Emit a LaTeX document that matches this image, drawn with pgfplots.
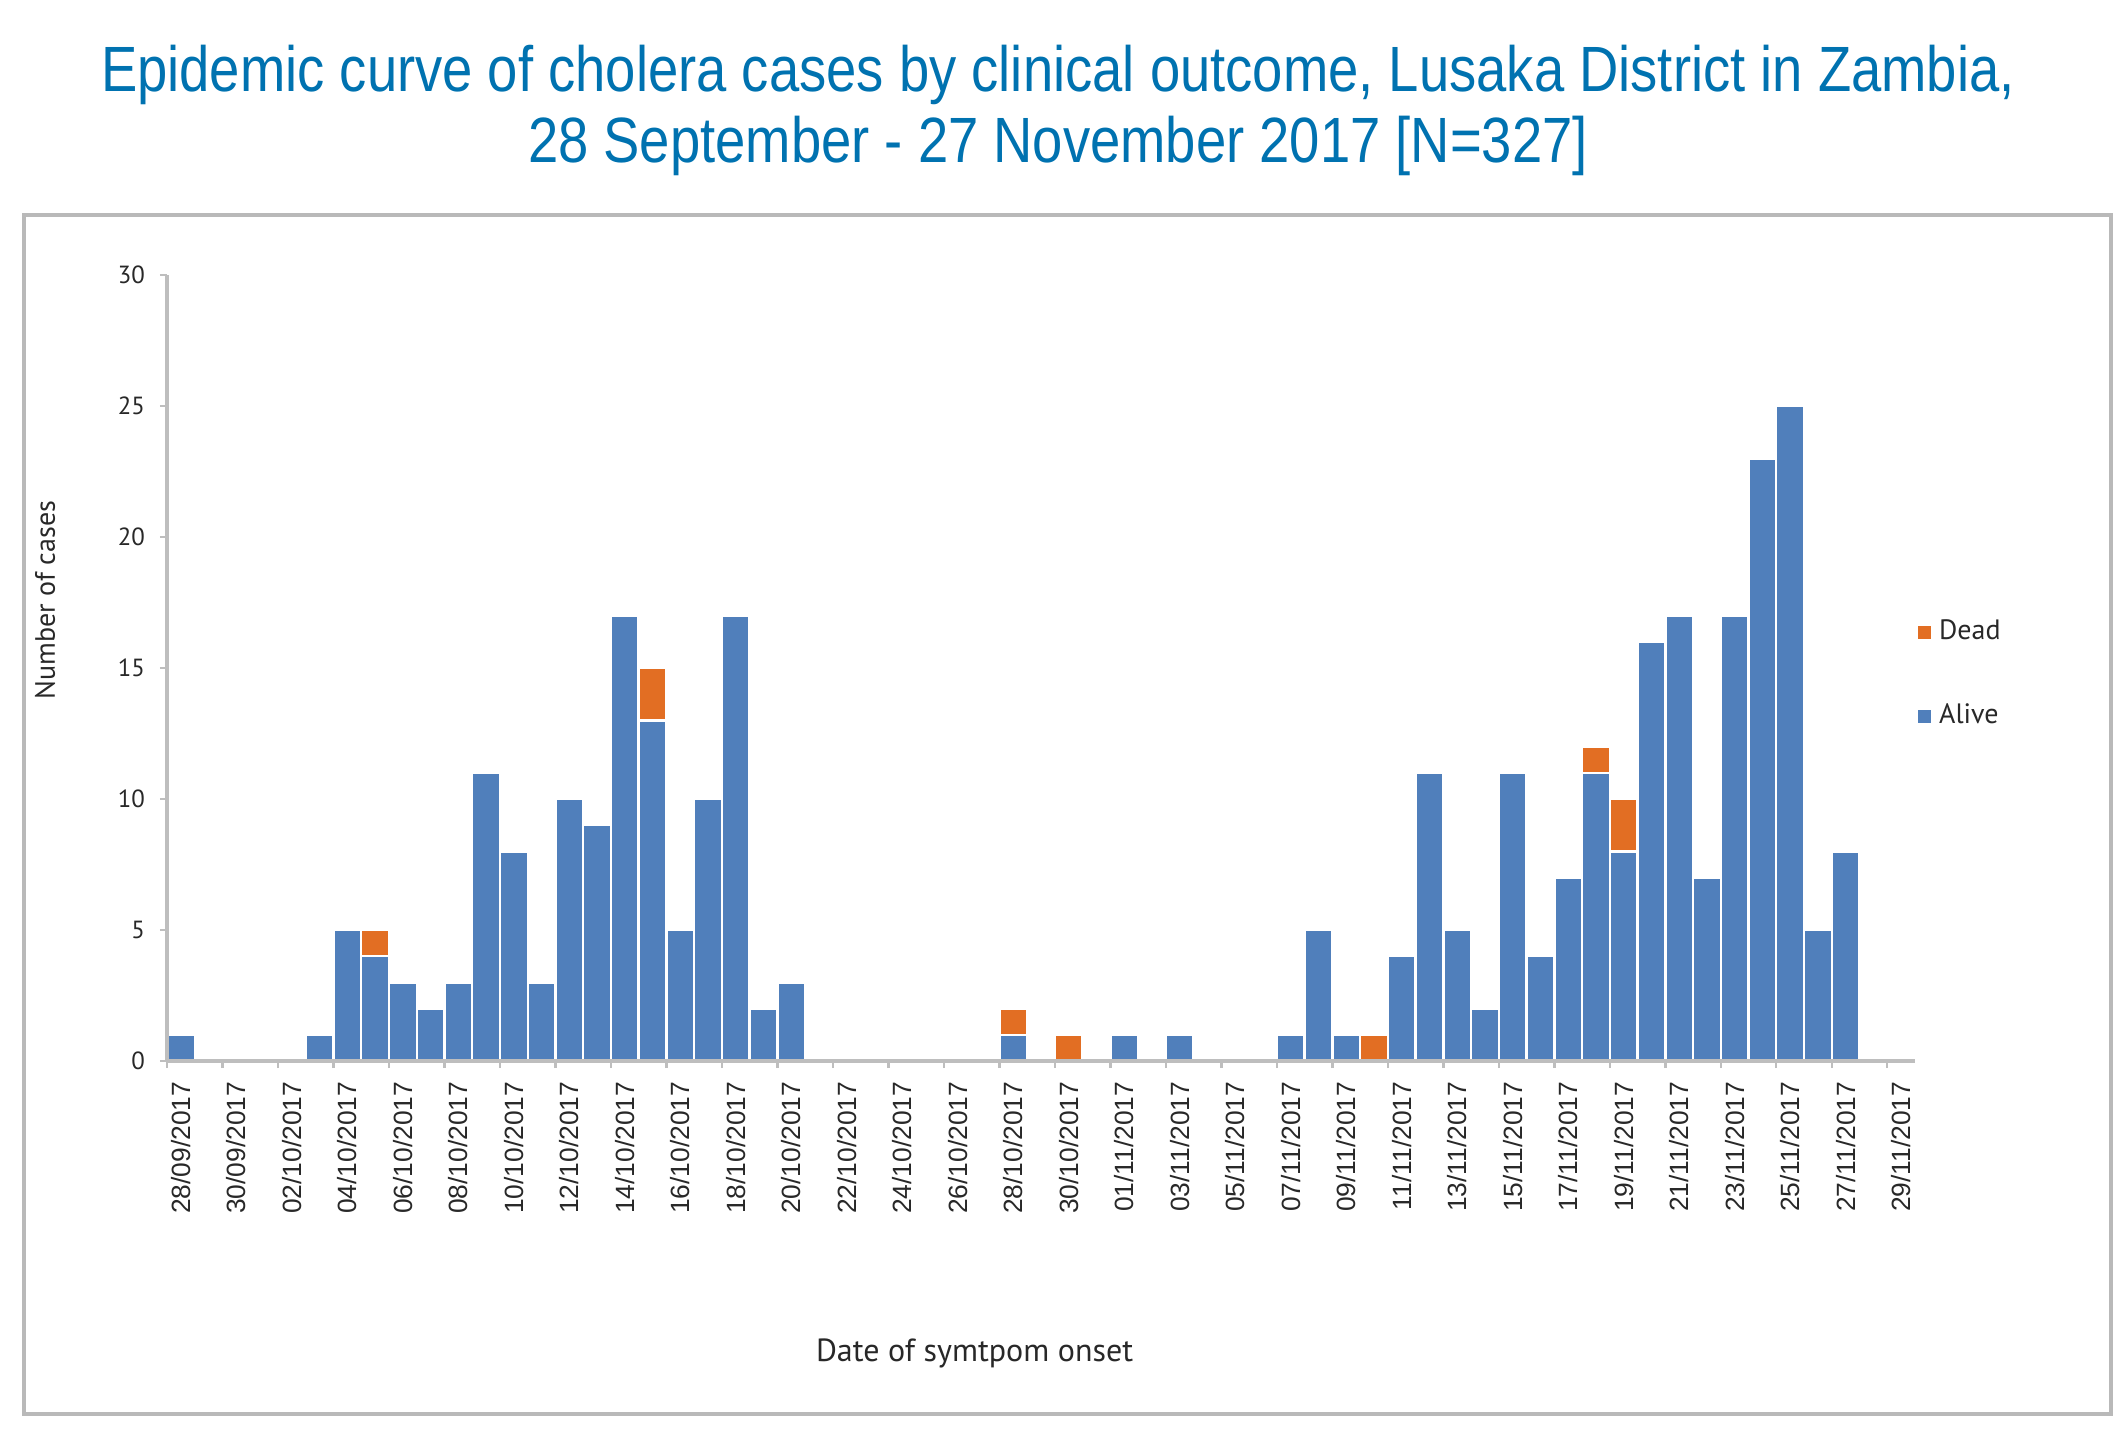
\documentclass[border=0pt]{standalone}
\usepackage{fontspec}
\setmainfont{PT Sans}
\newfontfamily\titlefont[FakeStretch=0.85]{Liberation Sans}
\newfontfamily\tickfont{Liberation Sans}
\usepackage{pgfplots}
\usepackage{pgfplotstable}
\pgfplotsset{compat=1.18}
\definecolor{alive}{RGB}{80,127,187}
\definecolor{dead}{RGB}{226,110,35}
\definecolor{titleblue}{RGB}{0,114,176}
\definecolor{axisgray}{RGB}{190,190,190}
\definecolor{framegray}{RGB}{185,185,185}
\definecolor{txt}{RGB}{40,40,40}

\pgfplotstableread{
day alive dead
0 1 0
1 0 0
2 0 0
3 0 0
4 0 0
5 1 0
6 5 0
7 4 1
8 3 0
9 2 0
10 3 0
11 11 0
12 8 0
13 3 0
14 10 0
15 9 0
16 17 0
17 13 2
18 5 0
19 10 0
20 17 0
21 2 0
22 3 0
23 0 0
24 0 0
25 0 0
26 0 0
27 0 0
28 0 0
29 0 0
30 1 1
31 0 0
32 0 1
33 0 0
34 1 0
35 0 0
36 1 0
37 0 0
38 0 0
39 0 0
40 1 0
41 5 0
42 1 0
43 0 1
44 4 0
45 11 0
46 5 0
47 2 0
48 11 0
49 4 0
50 7 0
51 11 1
52 8 2
53 16 0
54 17 0
55 7 0
56 17 0
57 23 0
58 25 0
59 5 0
60 8 0
61 0 0
62 0 0
}\cases

\begin{document}
\begin{tikzpicture}
\path (0pt,0pt) rectangle (529.5pt,357.5pt);
\draw[framegray, line width=0.8pt] (6pt,4pt) rectangle (527.75pt,303.75pt);
\node[text=titleblue, font=\titlefont\fontsize{16}{18}\selectfont, anchor=base, inner sep=0pt] at (264.5pt,334.5pt) {Epidemic curve of cholera cases by clinical outcome, Lusaka District in Zambia,};
\node[text=titleblue, font=\titlefont\fontsize{16}{18}\selectfont, anchor=base, inner sep=0pt] at (264.5pt,316.75pt) {28 September - 27 November 2017 [N=327]};
\begin{axis}[
  at={(41.75pt,92.25pt)}, anchor=south west,
  scale only axis, width=437pt, height=196.5pt,
  xmin=-0.5, xmax=62.5, ymin=0, ymax=30,
  ybar stacked, bar width=1,
  axis lines*=left,
  axis line style={axisgray, line width=0.8pt},
  axis on top,
  tick align=outside,
  major tick length=1.8pt,
  tick style={axisgray, line width=0.6pt},
  ytick={0,5,...,30},
  xtick={-0.5,1.5,...,61.5},
  xticklabels={},
  extra x ticks={0,2,...,62},
  extra x tick style={major tick length=0pt, tick style={draw=none}},
  extra x tick labels={28/09/2017,30/09/2017,02/10/2017,04/10/2017,06/10/2017,08/10/2017,10/10/2017,12/10/2017,14/10/2017,16/10/2017,18/10/2017,20/10/2017,22/10/2017,24/10/2017,26/10/2017,28/10/2017,30/10/2017,01/11/2017,03/11/2017,05/11/2017,07/11/2017,09/11/2017,11/11/2017,13/11/2017,15/11/2017,17/11/2017,19/11/2017,21/11/2017,23/11/2017,25/11/2017,27/11/2017,29/11/2017},
  xticklabel style={rotate=90, anchor=east, inner sep=0pt, text=txt, font=\tickfont\fontsize{6.6}{7}\selectfont},
  xticklabel shift=5pt,
  yticklabel style={inner sep=0pt, text=txt, font=\fontsize{6.2}{7}\selectfont, /pgf/number format/assume math mode=true},
  yticklabel shift=3.5pt,
  xlabel={Date of symtpom onset},
  xlabel style={at={(axis description cs:0.462,-0.3715)}, anchor=center, text=txt, font=\fontsize{8}{9}\selectfont},
  ylabel={Number of cases},
  ylabel style={at={(axis description cs:-0.0698,0.5865)}, anchor=center, text=txt, font=\fontsize{7}{8}\selectfont},
  reverse legend,
  legend cell align=left,
  legend style={at={(1.001,0.573)}, anchor=north west, draw=none, fill=none, inner sep=0pt, row sep=10.6pt, text=txt, font=\fontsize{7}{8}\selectfont},
  legend image code/.code={\fill[#1,draw=none] (0pt,-1.7pt) rectangle (3.4pt,1.7pt);},
]
\addplot[fill=alive, draw=white, line width=0.6pt] table[x=day, y=alive]{\cases};
\addlegendentry{Alive}
\addplot[fill=dead, draw=white, line width=0.6pt] table[x=day, y=dead]{\cases};
\addlegendentry{Dead}
\end{axis}
\end{tikzpicture}
\end{document}
